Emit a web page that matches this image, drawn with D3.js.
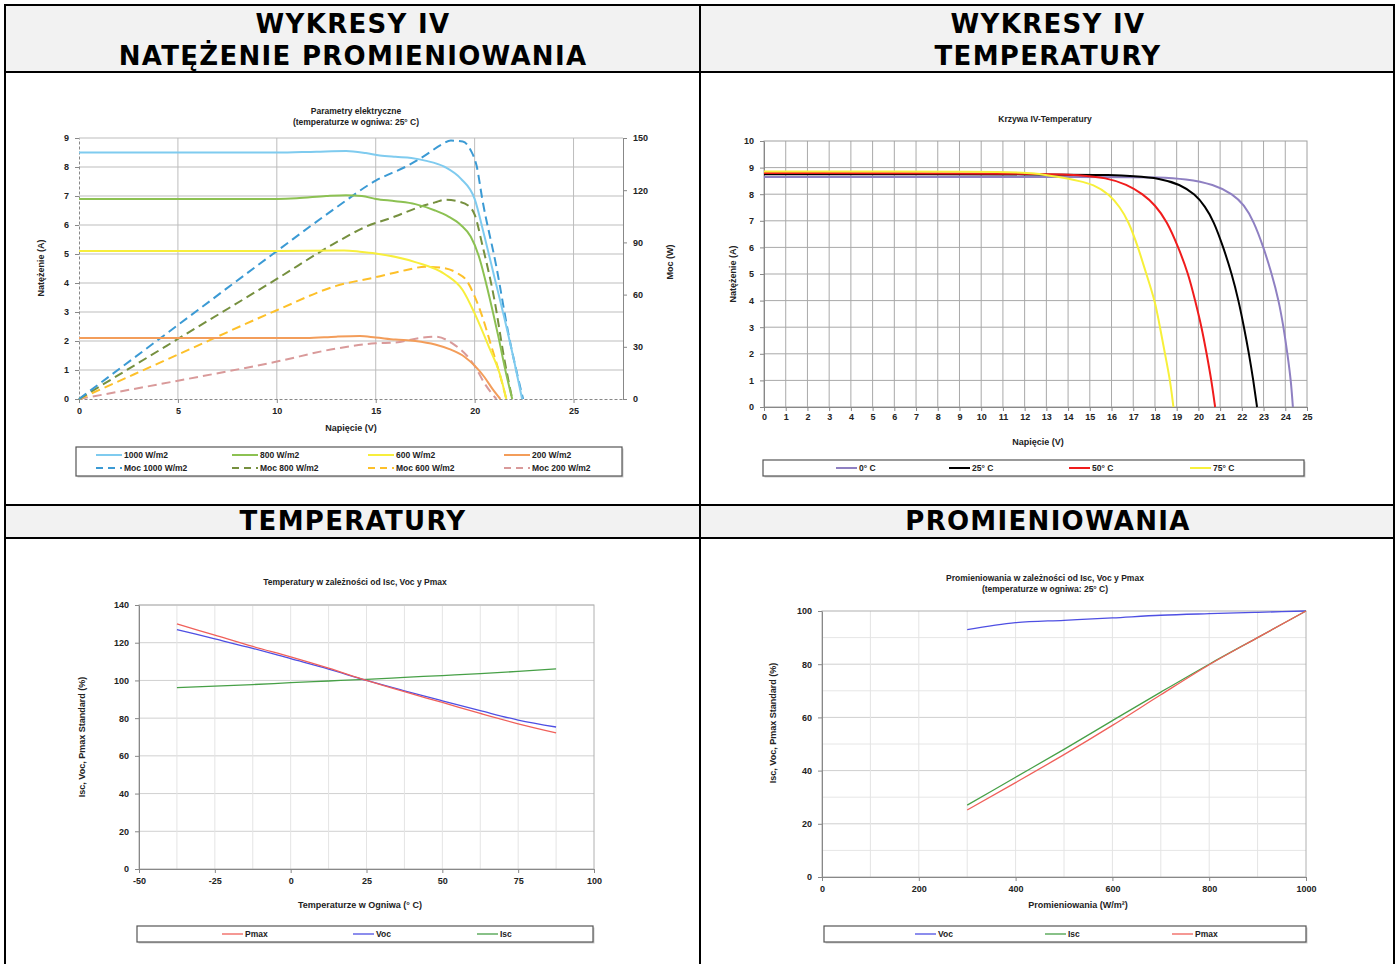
<!DOCTYPE html>
<meta charset='utf-8'>
<style>
	body { margin: 0; background: #fff; }
	svg text { font-family: 'Liberation Sans', Arial, sans-serif; font-weight: bold; fill: #222; }
	svg text.hdr { font-family: 'DejaVu Sans', Verdana, sans-serif; font-size: 26px; letter-spacing: 1.3px; fill: #000; }
	.axis text { font-size: 9px; }
</style>
<body>
	<div id='container'></div>
<script src='https://d3js.org/d3.v7.min.js'></script>
<script>
	// --- IV curves by irradiance (25 C) ---
	const v1000 = [0, 10, 12, 13.5, 14.5, 15.2, 16, 16.8, 17.5, 18.5, 19.3, 20, 20.5, 21, 21.5, 22, 22.4];
	const i1000 = [8.5, 8.5, 8.53, 8.55, 8.48, 8.4, 8.35, 8.31, 8.22, 8.0, 7.6, 6.9, 5.6, 4.2, 2.8, 1.3, 0];
	const v800 = [0, 10, 11, 12.5, 13.5, 14.3, 15, 16, 17, 18, 18.7, 19.3, 19.8, 20.2, 20.7, 21.2, 21.6, 21.9];
	const i800 = [6.9, 6.9, 6.92, 7.0, 7.03, 7.0, 6.9, 6.82, 6.72, 6.5, 6.28, 6.0, 5.6, 4.95, 3.65, 2.15, 0.85, 0];
	const v600 = [0, 5, 10, 13.4, 14.2, 15, 17, 18.5, 19.4, 20, 20.7, 21.3, 21.6];
	const i600 = [5.1, 5.1, 5.1, 5.12, 5.08, 5.02, 4.72, 4.3, 3.75, 2.95, 1.83, 0.8, 0];
	const v200 = [0, 5, 10, 11.5, 13, 14.2, 15, 16, 17, 18, 18.8, 19.5, 20, 20.5, 20.9, 21.3];
	const i200 = [2.1, 2.1, 2.1, 2.1, 2.15, 2.17, 2.12, 2.05, 2.0, 1.88, 1.7, 1.45, 1.15, 0.75, 0.35, 0];

	const vp1000 = [0, 5, 10, 13, 15, 16.6, 17.5, 18.3, 18.8, 19.4, 19.8, 20.1, 20.4, 21.1, 21.7, 22.45];
	const p1000 = [0, 42.5, 85, 110, 125.5, 134, 140, 146, 148.5, 148, 143, 134, 114, 76, 38, 0];
	const vp800 = [0, 5, 10, 13, 14.5, 16, 17, 18, 18.5, 19.2, 19.7, 20, 20.4, 21, 21.5, 21.9];
	const p800 = [0, 34.5, 69, 90, 99, 105, 109.5, 113, 114.5, 113.5, 111, 106, 88, 57, 23, 0];
	const vp600 = [0, 5, 10, 13, 15, 16.5, 17.5, 18.3, 19.1, 19.6, 20, 20.4, 20.8, 21.3, 21.6];
	const p600 = [0, 25.5, 51, 65, 70, 74, 76, 75.5, 72.5, 68, 59, 47, 32, 13, 0];
	const vp200 = [0, 5, 10, 13, 15, 16, 17.2, 18, 19, 19.6, 20, 20.5, 21.1];
	const p200 = [0, 10.5, 21.5, 29, 32, 32.5, 35, 35.8, 31, 25, 19, 9, 0];

	// --- IV curves by temperature ---
	const vT0 = [0, 17, 18, 19.46, 20.7, 21.6, 22.1, 22.54, 23, 23.38, 23.7, 23.92, 24.1, 24.26, 24.35];
	const iT0 = [8.65, 8.65, 8.64, 8.58, 8.37, 8.0, 7.6, 7.0, 6.0, 5.0, 4.0, 3.0, 2.0, 1.0, 0];
	const vT25 = [0, 14, 16, 17, 18.23, 19.15, 19.85, 20.3, 20.7, 21.15, 21.54, 21.85, 22.1, 22.33, 22.53, 22.7];
	const iT25 = [8.75, 8.75, 8.72, 8.68, 8.6, 8.37, 8.0, 7.55, 7.0, 6.0, 5.0, 4.0, 3.0, 2.0, 1.0, 0];
	const vT50 = [0, 13, 14.5, 15.77, 16.7, 17.46, 18, 18.54, 19.08, 19.54, 19.85, 20.15, 20.38, 20.6, 20.77];
	const iT50 = [8.8, 8.78, 8.72, 8.62, 8.37, 8.0, 7.6, 7.0, 6.0, 5.0, 4.0, 3.0, 2.0, 1.0, 0];
	const vT75 = [0, 11, 12.5, 13.6, 14.5, 15.15, 15.9, 16.4, 16.77, 17.23, 17.6, 18.0, 18.23, 18.46, 18.7, 18.85];
	const iT75 = [8.85, 8.85, 8.8, 8.64, 8.5, 8.37, 8.0, 7.5, 7.0, 6.0, 5.0, 4.0, 3.0, 2.0, 1.0, 0];

	// --- relative values vs temperature ---
	const temps = [-37.5, -25, -12.5, 0, 12.5, 25, 37.5, 50, 62.5, 75, 87.5];
	const tPmax = [130, 124, 118, 112.5, 106.5, 100, 94, 88.3, 82.5, 77, 72.2];
	const tVoc = [127, 122, 117, 111.5, 106, 100, 94.5, 89.2, 84, 79, 75.3];
	const tIsc = [96.2, 97, 97.8, 98.8, 99.7, 100.6, 101.6, 102.6, 103.6, 104.8, 106.1];

	// --- relative values vs irradiance ---
	const irr = [300, 400, 500, 600, 700, 800, 900, 1000];
	const gVoc = [93, 95.6, 96.5, 97.4, 98.4, 99, 99.5, 100];
	const gIsc = [27, 37.5, 48, 58.8, 69.5, 80, 90, 100];
	const gPmax = [25.2, 35.5, 46, 57, 68.5, 79.8, 90, 100];

	const W = 1396, H = 964;
	const svg = d3.select('#container').append('svg')
		.attr('width', W).attr('height', H);

	// table frame
	svg.append('rect').attr('x', 5).attr('y', 5).attr('width', 1389).attr('height', 67).attr('fill', '#f2f2f2');
	svg.append('rect').attr('x', 5).attr('y', 505).attr('width', 1389).attr('height', 33).attr('fill', '#f2f2f2');
	[5, 72, 505, 538].forEach(yy => {
		svg.append('line').attr('x1', 4).attr('x2', 1395).attr('y1', yy).attr('y2', yy)
			.attr('stroke', '#000').attr('stroke-width', 2);
	});
	[5, 700, 1394].forEach(xx => {
		svg.append('line').attr('x1', xx).attr('x2', xx).attr('y1', 4).attr('y2', H + 2)
			.attr('stroke', '#000').attr('stroke-width', 2);
	});
	const headers = [
		{ x: 352, y: 33, t: 'WYKRESY IV' }, { x: 352, y: 65, t: 'NATĘŻENIE PROMIENIOWANIA' },
		{ x: 1047, y: 33, t: 'WYKRESY IV' }, { x: 1047, y: 65, t: 'TEMPERATURY' },
		{ x: 352, y: 530, t: 'TEMPERATURY' }, { x: 1047, y: 530, t: 'PROMIENIOWANIA' },
	];
	svg.selectAll('.hdr').data(headers).join('text')
		.attr('class', 'hdr').attr('x', d => d.x + 1).attr('y', d => d.y)
		.attr('text-anchor', 'middle').text(d => d.t);

	const zip = (xs, ys) => xs.map((d, i) => [d, ys[i]]);
	const plain = d => String(d);

	function makeChart(o) {
		const x = d3.scaleLinear().domain(o.xDomain).range([o.left, o.right]);
		const y = d3.scaleLinear().domain(o.yDomain).range([o.bottom, o.top]);
		const g = svg.append('g');

		g.append('g').selectAll('line').data(o.yGrid).join('line')
			.attr('x1', o.left).attr('x2', o.right)
			.attr('y1', d => y(d)).attr('y2', d => y(d))
			.attr('stroke', d => (o.yMinor && !o.yTicks.includes(d)) ? o.minorColor : o.gridColor);
		g.append('g').selectAll('line').data(o.xGrid).join('line')
			.attr('y1', o.top).attr('y2', o.bottom)
			.attr('x1', d => x(d)).attr('x2', d => x(d))
			.attr('stroke', o.vGridColor || o.gridColor);
		if (o.border) {
			g.append('rect').attr('x', o.left).attr('y', o.top)
				.attr('width', o.right - o.left).attr('height', o.bottom - o.top)
				.attr('fill', 'none').attr('stroke', o.border);
		}

		const xa = g.append('g').attr('class', 'axis')
			.attr('transform', `translate(0,${o.bottom})`)
			.call(d3.axisBottom(x).tickValues(o.xTicks).tickFormat(plain)
				.tickSize(4).tickSizeOuter(0).tickPadding(o.xPad || 5));
		const ya = g.append('g').attr('class', 'axis')
			.attr('transform', `translate(${o.left},0)`)
			.call(d3.axisLeft(y).tickValues(o.yTicks).tickFormat(plain)
				.tickSize(4).tickSizeOuter(0).tickPadding(o.yPad || 6));
		[xa, ya].forEach(a => {
			a.selectAll('path, line').attr('stroke', '#888');
			a.selectAll('text').attr('fill', '#222');
		});

		o.title.forEach((t, i) => {
			g.append('text').attr('x', o.titleX).attr('y', o.titleY + i * 11)
				.attr('text-anchor', 'middle').style('font-size', '8.5px').text(t);
		});
		g.append('text').attr('x', o.xLabelX).attr('y', o.xLabelY)
			.attr('text-anchor', 'middle').style('font-size', '9px').text(o.xLabel);
		g.append('text').attr('transform', `translate(${o.yLabelX},${o.yLabelY}) rotate(-90)`)
			.attr('text-anchor', 'middle').style('font-size', '9px').text(o.yLabel);

		return { g, x, y };
	}

	function drawSeries(c, ys, s) {
		const line = d3.line().x(d => c.x(d[0])).y(d => ys(d[1]))
			.curve(s.curve || d3.curveMonotoneX);
		c.g.append('path').datum(s.data)
			.attr('d', line)
			.attr('fill', 'none')
			.attr('stroke', s.color)
			.attr('stroke-width', s.width || 2)
			.attr('stroke-dasharray', s.dash || null)
			.attr('stroke-linejoin', 'round');
	}

	function legend(box, items) {
		const g = svg.append('g');
		g.append('rect').attr('x', box.x + 1.5).attr('y', box.y + 1.5)
			.attr('width', box.w).attr('height', box.h).attr('fill', '#ccc');
		g.append('rect').attr('x', box.x).attr('y', box.y)
			.attr('width', box.w).attr('height', box.h)
			.attr('fill', '#fff').attr('stroke', '#555').attr('stroke-width', 1.2);
		const it = g.selectAll('.it').data(items).join('g')
			.attr('transform', d => `translate(${d.x},${d.y})`);
		it.append('line').attr('x1', 0).attr('x2', d => d.len || 21).attr('y1', 0).attr('y2', 0)
			.attr('stroke', d => d.color).attr('stroke-width', d => d.w || 2)
			.attr('stroke-dasharray', d => d.dash || null);
		it.append('text').attr('x', d => (d.len || 21) + 2).attr('y', 3.2)
			.style('font-size', '8.5px').text(d => d.label);
	}

	// ---------- Chart 1: irradiance ----------
	const c1 = makeChart({
		left: 79, right: 623, top: 138, bottom: 399,
		xDomain: [0, 27.5], yDomain: [0, 9],
		xTicks: [0, 5, 10, 15, 20, 25], yTicks: d3.range(0, 10),
		xGrid: [5, 10, 15, 20, 25], yGrid: d3.range(1, 10),
		gridColor: '#bdbdbd',
		title: ['Parametry elektryczne', '(temperaturze w ogniwa: 25° C)'], titleX: 356, titleY: 114,
		xLabel: 'Napięcie (V)', xLabelX: 351, xLabelY: 431,
		yLabel: 'Natężenie (A)', yLabelX: 44, yLabelY: 268,
	});
	c1.g.selectAll('.axis .domain').attr('stroke-dasharray', '3,2');
	const y2 = d3.scaleLinear().domain([0, 150]).range([399, 138]);
	const ra = c1.g.append('g').attr('class', 'axis').attr('transform', 'translate(623,0)')
		.call(d3.axisRight(y2).tickValues([0, 30, 60, 90, 120, 150]).tickFormat(plain)
			.tickSize(4).tickSizeOuter(0).tickPadding(6));
	ra.selectAll('path, line').attr('stroke', '#888');
	c1.g.append('text').attr('transform', 'translate(673,262) rotate(-90)')
		.attr('text-anchor', 'middle').style('font-size', '9px').text('Moc (W)');

	const col = {
		i1000: '#7fcbef', p1000: '#3b9ad4', i800: '#8cc152', p800: '#76903f',
		i600: '#f7ee3c', p600: '#fdc02a', i200: '#f39d5a', p200: '#d99a9a',
	};
	const dash = '9,5';
	drawSeries(c1, y2, { data: zip(vp200, p200), color: col.p200, dash });
	drawSeries(c1, y2, { data: zip(vp600, p600), color: col.p600, dash });
	drawSeries(c1, y2, { data: zip(vp800, p800), color: col.p800, dash });
	drawSeries(c1, y2, { data: zip(vp1000, p1000), color: col.p1000, dash });
	drawSeries(c1, c1.y, { data: zip(v200, i200), color: col.i200 });
	drawSeries(c1, c1.y, { data: zip(v600, i600), color: col.i600 });
	drawSeries(c1, c1.y, { data: zip(v800, i800), color: col.i800 });
	drawSeries(c1, c1.y, { data: zip(v1000, i1000), color: col.i1000 });

	legend({ x: 76, y: 447, w: 546, h: 29 }, [
		{ x: 96, y: 455, len: 26, color: col.i1000, label: '1000 W/m2' },
		{ x: 232, y: 455, len: 26, color: col.i800, label: '800 W/m2' },
		{ x: 368, y: 455, len: 26, color: col.i600, label: '600 W/m2' },
		{ x: 504, y: 455, len: 26, color: col.i200, label: '200 W/m2' },
		{ x: 96, y: 468, len: 26, color: col.p1000, dash: '7,5', label: 'Moc 1000 W/m2' },
		{ x: 232, y: 468, len: 26, color: col.p800, dash: '7,5', label: 'Moc 800 W/m2' },
		{ x: 368, y: 468, len: 26, color: col.p600, dash: '7,5', label: 'Moc 600 W/m2' },
		{ x: 504, y: 468, len: 26, color: col.p200, dash: '7,5', label: 'Moc 200 W/m2' },
	]);

	// ---------- Chart 2: temperature IV ----------
	const c2 = makeChart({
		left: 764, right: 1307, top: 141, bottom: 407,
		xDomain: [0, 25], yDomain: [0, 10],
		xTicks: d3.range(0, 26), yTicks: d3.range(0, 11),
		xGrid: d3.range(1, 25), yGrid: d3.range(1, 10),
		gridColor: '#a9a9a9', border: '#a0a0a0', xPad: 3,
		title: ['Krzywa IV-Temperatury'], titleX: 1045, titleY: 122,
		xLabel: 'Napięcie (V)', xLabelX: 1038, xLabelY: 445,
		yLabel: 'Natężenie (A)', yLabelX: 736, yLabelY: 274,
	});
	const tcol = { t0: '#8f80c2', t25: '#000000', t50: '#f01c1c', t75: '#f7f03a' };
	const smooth = d3.curveBasis;
	drawSeries(c2, c2.y, { data: zip(vT0, iT0), color: tcol.t0, curve: smooth });
	drawSeries(c2, c2.y, { data: zip(vT25, iT25), color: tcol.t25, curve: smooth });
	drawSeries(c2, c2.y, { data: zip(vT50, iT50), color: tcol.t50, curve: smooth });
	drawSeries(c2, c2.y, { data: zip(vT75, iT75), color: tcol.t75, curve: smooth });
	legend({ x: 763, y: 460, w: 541, h: 16 }, [
		{ x: 836, y: 468, color: tcol.t0, label: '0° C' },
		{ x: 949, y: 468, color: tcol.t25, label: '25° C' },
		{ x: 1069, y: 468, color: tcol.t50, label: '50° C' },
		{ x: 1190, y: 468, color: tcol.t75, label: '75° C' },
	]);

	// ---------- Chart 3: vs temperature ----------
	const c3 = makeChart({
		left: 139, right: 594, top: 605, bottom: 869,
		xDomain: [-50, 100], yDomain: [0, 140],
		xTicks: [-50, -25, 0, 25, 50, 75, 100], yTicks: d3.range(0, 141, 20),
		xGrid: d3.range(-37.5, 100, 12.5), yGrid: d3.range(20, 141, 20),
		gridColor: '#d0d0d0', vGridColor: '#e4e4e4', border: '#b0b0b0',
		title: ['Temperatury w zależności od Isc, Voc y Pmax'], titleX: 355, titleY: 585,
		xLabel: 'Temperaturze w Ogniwa  (° C)', xLabelX: 360, xLabelY: 908,
		yLabel: 'Isc, Voc, Pmax Standard (%)', yLabelX: 85, yLabelY: 737,
	});
	const rcol = { pmax: '#f0605a', voc: '#4e4fe3', isc: '#47a047' };
	drawSeries(c3, c3.y, { data: zip(temps, tIsc), color: rcol.isc, width: 1.3 });
	drawSeries(c3, c3.y, { data: zip(temps, tVoc), color: rcol.voc, width: 1.3 });
	drawSeries(c3, c3.y, { data: zip(temps, tPmax), color: rcol.pmax, width: 1.3 });
	legend({ x: 137, y: 926, w: 456, h: 16 }, [
		{ x: 222, y: 934, color: rcol.pmax, w: 1.3, label: 'Pmax' },
		{ x: 353, y: 934, color: rcol.voc, w: 1.3, label: 'Voc' },
		{ x: 477, y: 934, color: rcol.isc, w: 1.3, label: 'Isc' },
	]);

	// ---------- Chart 4: vs irradiance ----------
	const c4 = makeChart({
		left: 822, right: 1306, top: 611, bottom: 877,
		xDomain: [0, 1000], yDomain: [0, 100],
		xTicks: [0, 200, 400, 600, 800, 1000], yTicks: [0, 20, 40, 60, 80, 100],
		xGrid: d3.range(100, 1000, 100), yGrid: d3.range(10, 100, 10), yMinor: true,
		gridColor: '#cfcfcf', minorColor: '#e6e6e6', vGridColor: '#e4e4e4', border: '#b0b0b0',
		title: ['Promieniowania w zależności od Isc, Voc y Pmax', '(temperaturze w ogniwa: 25° C)'],
		titleX: 1045, titleY: 581,
		xLabel: 'Promieniowania (W/m²)', xLabelX: 1078, xLabelY: 908,
		yLabel: 'Isc, Voc, Pmax Standard (%)', yLabelX: 776, yLabelY: 723,
	});
	drawSeries(c4, c4.y, { data: zip(irr, gVoc), color: rcol.voc, width: 1.3 });
	drawSeries(c4, c4.y, { data: zip(irr, gIsc), color: rcol.isc, width: 1.3 });
	drawSeries(c4, c4.y, { data: zip(irr, gPmax), color: rcol.pmax, width: 1.3 });
	legend({ x: 824, y: 926, w: 482, h: 16 }, [
		{ x: 915, y: 934, color: rcol.voc, w: 1.3, label: 'Voc' },
		{ x: 1045, y: 934, color: rcol.isc, w: 1.3, label: 'Isc' },
		{ x: 1172, y: 934, color: rcol.pmax, w: 1.3, label: 'Pmax' },
	]);
</script>
</body>
